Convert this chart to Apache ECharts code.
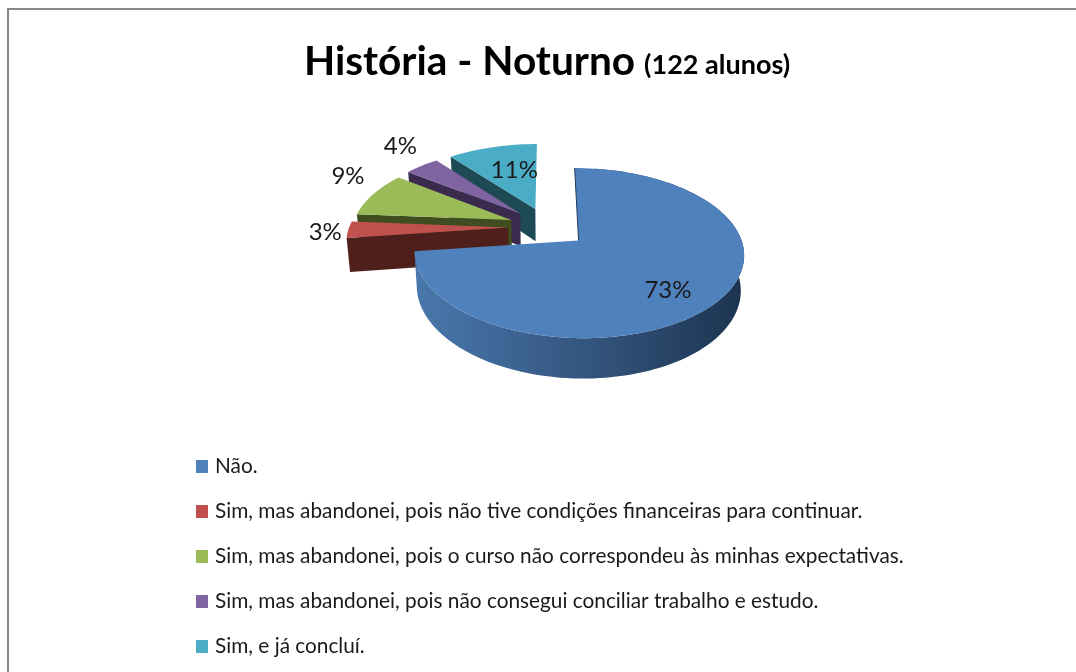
<!DOCTYPE html>
<html>
<head>
<meta charset="utf-8">
<style>html,body{margin:0;padding:0;background:#fff}#c{width:1076px;height:672px}</style>
<script src="https://cdn.jsdelivr.net/npm/echarts@6/dist/echarts.min.js"></script>
</head>
<body>
<div id="c"></div>
<script>
const categories = [
  "Não.",
  "Sim, mas abandonei, pois não tive condições financeiras para continuar.",
  "Sim, mas abandonei, pois o curso não correspondeu às minhas expectativas.",
  "Sim, mas abandonei, pois não consegui conciliar trabalho e estudo.",
  "Sim, e já concluí."
];
const students = [89, 4, 11, 5, 13];
const topColors = ["#4f81bd", "#c0504d", "#9bbb59", "#8064a2", "#4bacc6"];
const faceColors = ["#1f3a5c", "#4f1f1b", "#3f4d20", "#3a2a4e", "#1d4a55"];
const drawOrder = [4, 3, 2, 1, 0];
const labelPlacement = [[0.734, 7], [1.139, -1.6], [1.305, 7.3], [1.377, 4.2], [0.59, 4]];

// Projection of the tilted 3D pie
const view = {cx: 548, cy: 227, rx: 159, ry: 79.2, k: 0.146, depth: 33.5, taper: 0.017, explode: 0.25};
const total = students.reduce((a, b) => a + b, 0);
const rad = d => d * Math.PI / 180;

function project(u, v, z) {
  const s = 1 / (1 - view.k * v);
  return [view.cx + view.rx * u * s * (1 - view.taper * z), view.cy + view.ry * v * s + view.depth * z * s];
}
function sliceAngles(i) {
  let start = 0;
  for (let j = 0; j < i; j++) start += students[j] / total * 360;
  return [start, start + students[i] / total * 360];
}
function renderSlice(i) {
  const [a0, a1] = sliceAngles(i);
  const mid = (a0 + a1) / 2;
  const u0 = view.explode * Math.sin(rad(mid));
  const v0 = -view.explode * Math.cos(rad(mid));
  const rim = (deg, z) => project(u0 + Math.sin(rad(deg)), v0 - Math.cos(rad(deg)), z);
  const apexT = project(u0, v0, 0), apexB = project(u0, v0, 1);
  const steps = Math.max(4, Math.ceil((a1 - a0) / 2));
  const arcT = [], arcB = [];
  for (let s = 0; s <= steps; s++) {
    const d = a0 + (a1 - a0) * s / steps;
    arcT.push(rim(d, 0)); arcB.push(rim(d, 1));
  }
  const children = [];
  if (i === 0) {
    const visible = s => s >= 4;   // the rim's far end stays hidden behind the top face
    const sideT = arcT.filter((p, s) => visible(s));
    const sideB = arcB.filter((p, s) => visible(s));
    children.push({type: 'polygon', shape: {points: sideT.concat(sideB.reverse())}, style: {
      fill: {type: 'linear', x: 0, y: 0, x2: 1, y2: 0, colorStops: [
        {offset: 0, color: '#4a78ad'}, {offset: 0.45, color: '#375a85'}, {offset: 1, color: '#1c3450'}]}
    }});
  } else {
    children.push({type: 'polygon', shape: {points: [arcT[0], apexT, apexB, arcB[0]]}, style: {fill: faceColors[i]}});
  }
  children.push({type: 'polygon', shape: {points: [apexT].concat(arcT)}, style: {fill: topColors[i]}});
  if (i === 0) {
    children.push({type: 'polyline', shape: {points: [apexT, arcT[0]]}, style: {stroke: faceColors[0], lineWidth: 1, fill: null}});
  }
  const [lr, ld] = labelPlacement[i];
  const lp = project(u0 + lr * Math.sin(rad(mid + ld)), v0 - lr * Math.cos(rad(mid + ld)), 0);
  children.push({type: 'text', z2: 10, style: {
    text: Math.round(students[i] / total * 100) + '%', x: lp[0], y: lp[1], align: 'center', verticalAlign: 'middle',
    font: '24px Lato, "Open Sans", sans-serif', fill: '#1a1a1a'
  }});
  return {type: 'group', children};
}

const chart = echarts.init(document.getElementById('c'), null, {renderer: 'canvas'});
chart.setOption({
  animation: false,
  backgroundColor: '#fff',
  title: {
    left: 299, top: 36,
    text: '{a|História - Noturno} {b|(122 alunos)}',
    textStyle: {rich: {
      a: {fontFamily: 'Lato', fontWeight: 'bold', fontSize: 40.6, color: '#000'},
      b: {fontFamily: 'Lato', fontWeight: 'bold', fontSize: 27, color: '#000', padding: [8, 0, 0, 4]}
    }}
  },
  legend: {
    orient: 'vertical', left: 191, top: 449, itemWidth: 12, itemHeight: 13, itemGap: 20,
    data: categories, selectedMode: false, icon: 'rect',
    textStyle: {fontFamily: 'Lato', fontSize: 20.8, color: '#1a1a1a', lineHeight: 25, padding: [0, 0, 0, 2]}
  },
  graphic: [
    {type: 'line', shape: {x1: 8, y1: 9, x2: 1076, y2: 9}, style: {stroke: '#888', lineWidth: 2}, silent: true},
    {type: 'line', shape: {x1: 8, y1: 8, x2: 8, y2: 672}, style: {stroke: '#888', lineWidth: 2}, silent: true}
  ],
  series: drawOrder.map((i, order) => ({
    type: 'custom',
    name: categories[i],
    coordinateSystem: 'none',
    z: 2 + order,
    silent: true,
    itemStyle: {color: topColors[i]},
    data: [students[i]],
    renderItem: () => renderSlice(i)
  }))
});
</script>
</body>
</html>
